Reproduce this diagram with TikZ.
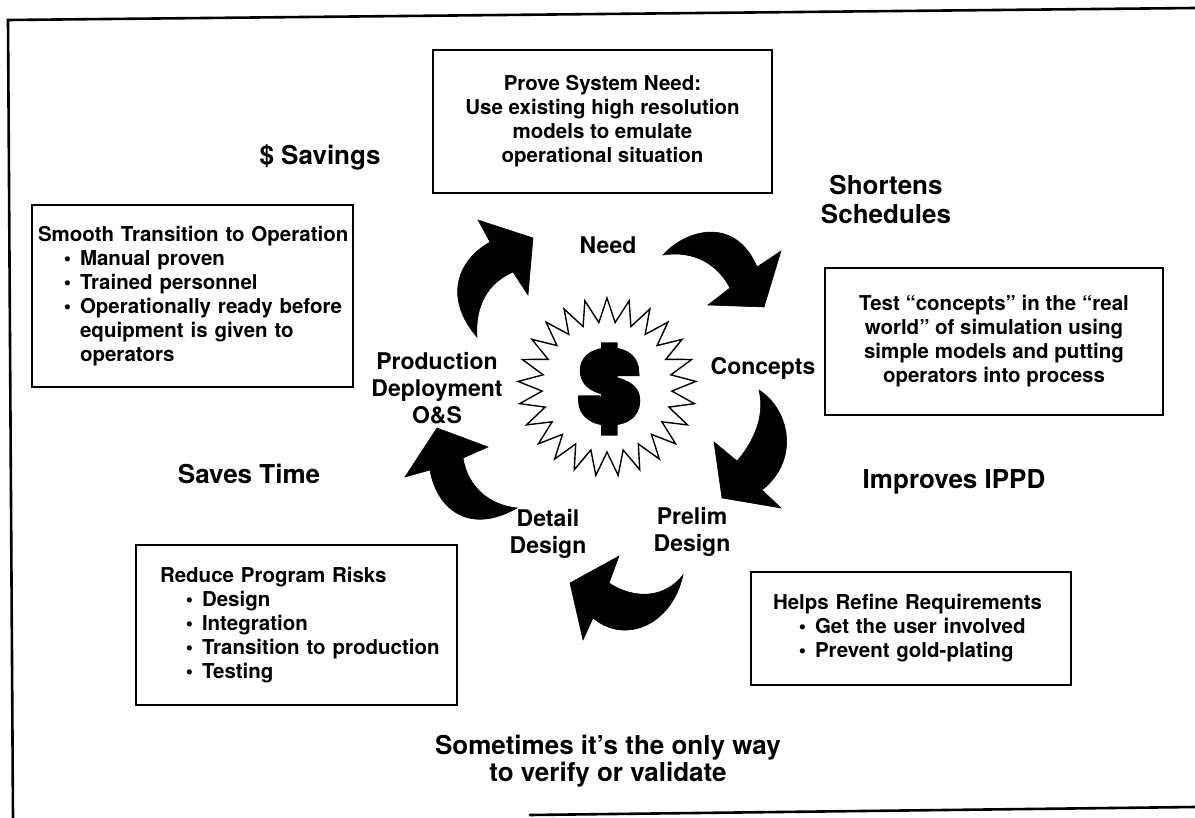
\documentclass[tikz,border=0pt]{standalone}
\usepackage{fontspec}
\setmainfont{TeX Gyre Heros}
\newfontfamily\heavyfont{TeX Gyre Heros}[BoldFeatures={FakeBold=9}]
\usetikzlibrary{calc}
\newcommand\bull{\makebox[42pt][r]{\textbullet\hspace{9pt}}}
\newcommand\cont{\hspace*{42pt}}
\begin{document}
\begin{tikzpicture}[x=1pt,y=-1pt,
  frameline/.style={line width=2.6pt, line cap=round},
  cbox/.style={draw, line width=2.2pt, inner ysep=0pt, align=center,
    font=\fontsize{20.5}{24}\selectfont\bfseries},
  lbox/.style={draw, line width=2.2pt, inner ysep=0pt, align=left,
    font=\fontsize{20.5}{24}\selectfont\bfseries},
  lbl/.style={inner sep=0pt, align=center, font=\fontsize{23}{27}\selectfont\bfseries},
  big/.style={inner sep=0pt, align=center, font=\fontsize{26}{29}\selectfont\bfseries},
  blockarrow/.style={fill=black, draw=black, line width=0.6pt, line join=miter},
  burst/.style={draw=black, fill=white, line width=1.4pt, line join=miter}
]
\useasboundingbox (0,0) rectangle (1195,818);

% outer frame (partial, as scanned)
\coordinate (ftl) at (8,20);
\coordinate (ftr) at (1195,8);
\coordinate (fbl) at (13,818);
\coordinate (fbs) at (530,815);
\coordinate (fbr) at (1195,807);
\draw[frameline] (ftr) -- (ftl) -- (fbl);
\draw[frameline] (fbs) -- (fbr);

% boxes
\node[cbox, minimum width=339pt, minimum height=143pt] (need) at (602.5,121.5)
  {Prove System Need:\\Use existing high resolution\\models to emulate\\operational situation};
\node[cbox, minimum width=338pt, minimum height=147pt] (test) at (994,341.5)
  {Test ``concepts'' in the ``real\\world'' of simulation using\\simple models and putting\\operators into process};
\node[lbox, minimum width=321pt, minimum height=182pt, text width=309pt, inner xsep=6pt] (smooth) at (192.5,296)
  {\mbox{Smooth Transition to Operation}\\
   \bull Manual proven\\
   \bull Trained personnel\\
   \bull \mbox{Operationally ready before}\\
   \cont equipment is given to\\
   \cont operators};
\node[lbox, minimum width=321pt, minimum height=160pt, text width=273pt, inner xsep=24pt] (risk) at (296.5,625)
  {Reduce Program Risks\\
   \bull Design\\
   \bull Integration\\
   \bull \mbox{Transition to production}\\
   \bull Testing};
\node[lbox, minimum width=320pt, minimum height=113pt, text width=276pt, inner xsep=22pt] (refine) at (911,628.5)
  {\mbox{Helps Refine Requirements}\\
   \bull Get the user involved\\
   \bull Prevent gold-plating};

% starburst
\coordinate (bc) at (607,387);
\draw[burst] ($(bc)+(90:89pt)$)
  \foreach \k in {0,...,24} { -- ($(bc)+({90+(\k+0.5)*360/25}:65pt)$) -- ($(bc)+({90+(\k+1)*360/25}:89pt)$) } -- cycle;
\node[inner sep=0pt] (dollar) at (609.5,389) {\fontsize{95}{95}\selectfont\heavyfont\bfseries\scalebox{1.1}[1]{\$}};

% cycle labels
\node[lbl] (lneed) at (608,245) {Need};
\node[lbl] (lconc) at (763,368) {Concepts};
\node[lbl] (lprelim) at (692,532) {Prelim\\Design};
\node[lbl] (ldetail) at (548,534) {Detail\\Design};
\node[lbl] (lprod) at (437,388) {Production\\Deployment\\O\&S};

% benefit labels
\node[big] (lsav) at (320,157) {\$ Savings};
\node[big] (lsched) at (886,200) {Shortens\\Schedules};
\node[big] (ltime) at (249,474) {Saves Time};
\node[big] (lippd) at (954,482) {Improves IPPD};
\node[big, font=\fontsize{26}{27}\selectfont\bfseries] (lonly) at (608,761) {Sometimes it’s the only way\\to verify or validate};

% curved block arrows
% Need -> Concepts
\fill[blockarrow] (663,255) .. controls (685,230) and (735,215) .. (757,267)
  -- (781,251) -- (764,307) -- (708,305) -- (730,288)
  .. controls (718,265) and (695,250) .. (663,255) -- cycle;
% Concepts -> Prelim Design
\fill[blockarrow] (759,390) .. controls (790,410) and (800,460) .. (762,490)
  -- (781,508) -- (722,498) -- (714,442) -- (737,461)
  .. controls (755,440) and (765,415) .. (759,390) -- cycle;
% Prelim Design -> Detail Design
\fill[blockarrow] (683,575) .. controls (672,625) and (625,645) .. (593,618)
  -- (583,640) -- (570,583) -- (619,556) -- (609,583)
  .. controls (635,600) and (665,598) .. (683,575) -- cycle;
% Detail Design -> Production
\fill[blockarrow] (517,508) .. controls (470,535) and (437,510) .. (430,470)
  -- (405,477) -- (437,428) -- (488,447) -- (463,458)
  .. controls (468,488) and (490,505) .. (517,508) -- cycle;
% Production -> Need
\fill[blockarrow] (477,337) .. controls (445,300) and (455,262) .. (490,242)
  -- (478,220) -- (533,238) -- (528,295) -- (513,272)
  .. controls (488,283) and (475,305) .. (477,337) -- cycle;
\end{tikzpicture}
\end{document}
